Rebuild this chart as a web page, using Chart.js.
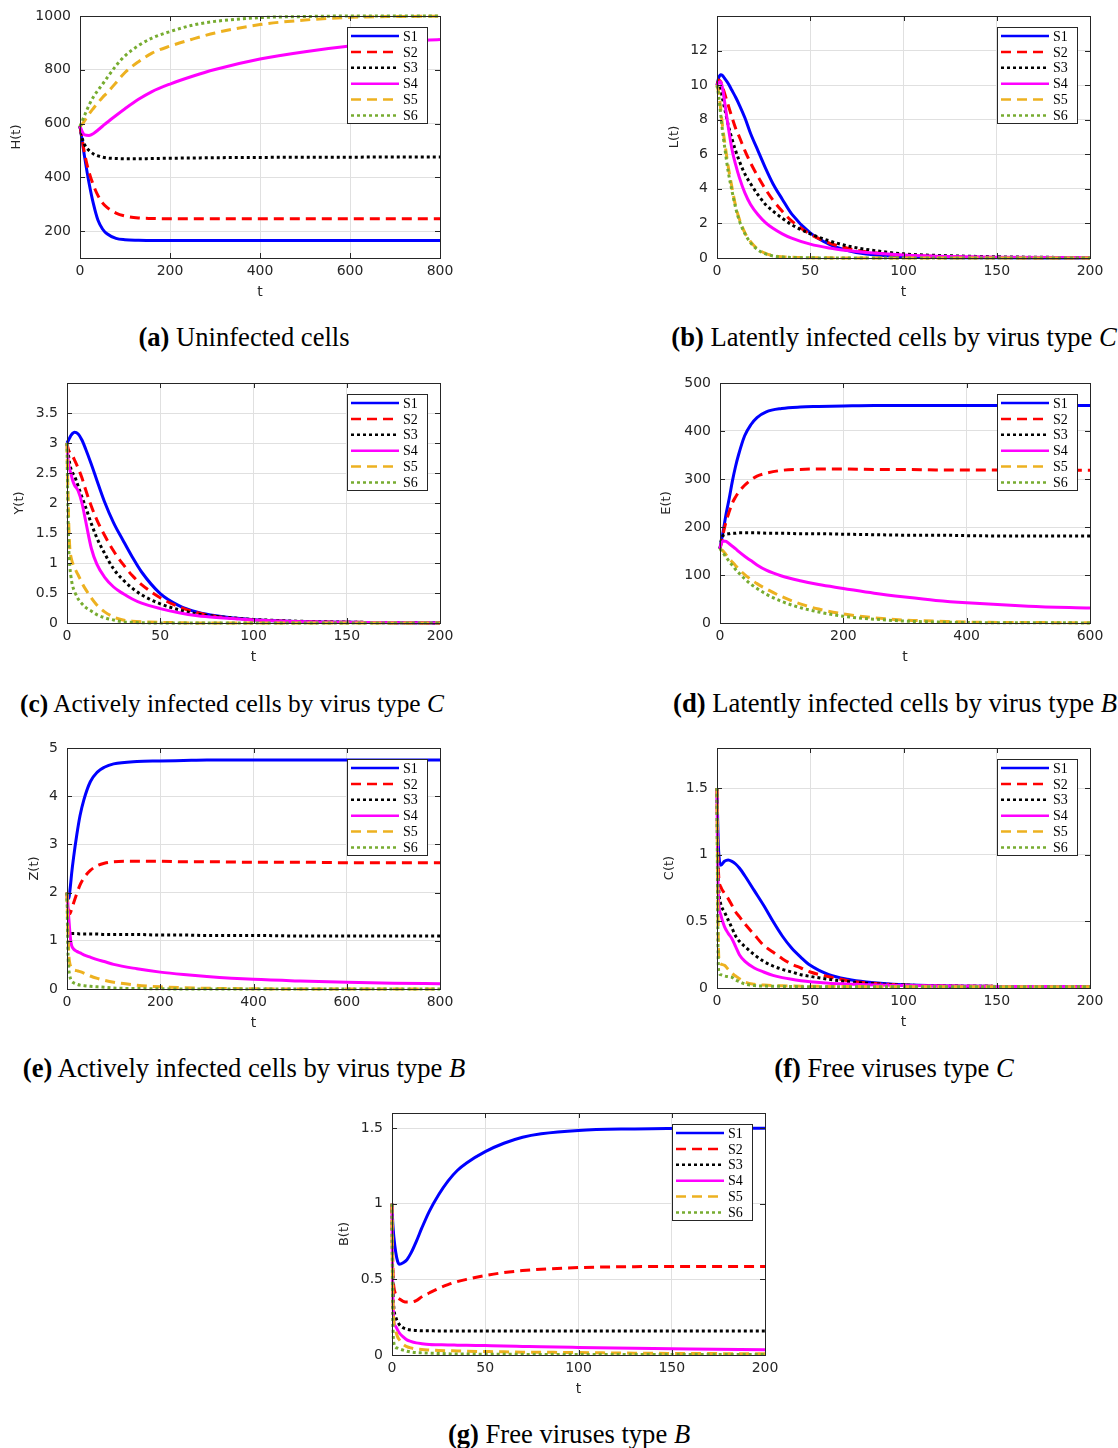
<!DOCTYPE html>
<html>
<head>
<meta charset="utf-8">
<script src="https://cdn.jsdelivr.net/npm/chart.js@4"></script>
<style>
  body { margin: 0; background: #fff; width: 1118px; height: 1448px; position: relative; overflow: hidden; }
  canvas { position: absolute; }
  .cap { position: absolute; font-family: "Liberation Serif", serif; font-size: 26.6px; line-height: 30px; white-space: nowrap; transform: translateX(-50%); color: #000; }
</style>
</head>
<body>
<div class="cap" style="left:244px;top:322px"><b>(a)</b> Uninfected cells</div>
<div class="cap" style="left:894px;top:322px"><b>(b)</b> Latently infected cells by virus type <i>C</i></div>
<div class="cap" style="left:232px;top:688px;font-size:25.4px"><b>(c)</b> Actively infected cells by virus type <i>C</i></div>
<div class="cap" style="left:895px;top:688px"><b>(d)</b> Latently infected cells by virus type <i>B</i></div>
<div class="cap" style="left:244px;top:1053px"><b>(e)</b> Actively infected cells by virus type <i>B</i></div>
<div class="cap" style="left:894px;top:1053px"><b>(f)</b> Free viruses type <i>C</i></div>
<div class="cap" style="left:569px;top:1419px"><b>(g)</b> Free viruses type <i>B</i></div>
<script>
// series names + tick values
const seriesNames = ['S1', 'S2', 'S3', 'S4', 'S5', 'S6']
const ticks800 = [0, 200, 400, 600, 800]
const ticks600 = [0, 200, 400, 600]
const ticks200 = [0, 50, 100, 150, 200]
const yTicksH = [200, 400, 600, 800, 1000]
const yTicksL = [0, 2, 4, 6, 8, 10, 12]
const yTicksY = [0, 0.5, 1, 1.5, 2, 2.5, 3, 3.5]
const yTicksE = [0, 100, 200, 300, 400, 500]
const yTicksZ = [0, 1, 2, 3, 4, 5]
const yTicksC = [0, 0.5, 1, 1.5]
const yTicksB = [0, 0.5, 1, 1.5]

// (a) H(t)
const tA = [0, 5, 10, 20, 30, 40, 50, 60, 80, 100, 130, 160, 200, 250, 300, 400, 500, 600, 700, 800]
const hS1 = [590, 535, 478, 380, 300, 240, 208, 190, 173, 168, 166, 165, 165, 165, 165, 165, 165, 165, 165, 165]
const hS2 = [590, 540, 490, 420, 370, 332, 305, 288, 267, 256, 249, 247, 246, 246, 246, 246, 246, 246, 246, 246]
const hS3 = [590, 545, 522, 500, 487, 480, 475, 472, 470, 469, 469, 470, 471, 472, 473, 474, 475, 475, 476, 476]
const hS4 = [590, 570, 558, 556, 563, 576, 590, 604, 630, 655, 690, 719, 747, 776, 801, 840, 867, 888, 903, 913]
const hS5 = [590, 598, 610, 635, 657, 678, 697, 714, 752, 790, 830, 862, 888, 914, 937, 968, 985, 995, 998, 999]
const hS6 = [590, 610, 630, 668, 700, 724, 746, 770, 815, 852, 890, 918, 942, 966, 980, 994, 998, 1000, 1000, 1000]

// (b) L(t)
const tB = [0, 1, 2, 3, 4, 6, 8, 10, 12, 15, 18, 22, 26, 30, 35, 40, 50, 60, 70, 80, 100, 125, 150, 200]
const lS1 = [10, 10.45, 10.6, 10.55, 10.4, 10.1, 9.7, 9.3, 8.85, 8.1, 7.2, 6.2, 5.2, 4.3, 3.4, 2.55, 1.45, 0.8, 0.43, 0.23, 0.07, 0.02, 0.01, 0]
const lS2 = [10, 10.3, 10.2, 9.9, 9.55, 8.85, 8.15, 7.5, 7.0, 6.2, 5.5, 4.7, 3.98, 3.35, 2.7, 2.15, 1.38, 0.88, 0.56, 0.36, 0.16, 0.07, 0.03, 0.01]
const lS3 = [10, 10.1, 9.7, 9.2, 8.7, 7.7, 6.9, 6.2, 5.6, 4.85, 4.3, 3.65, 3.1, 2.72, 2.3, 1.93, 1.4, 1.0, 0.7, 0.5, 0.24, 0.13, 0.07, 0.02]
const lS4 = [10, 10.15, 10.2, 9.8, 9.1, 7.6, 6.3, 5.4, 4.65, 3.75, 3.1, 2.5, 2.05, 1.72, 1.4, 1.15, 0.8, 0.58, 0.43, 0.32, 0.18, 0.09, 0.05, 0.02]
const lS5 = [10, 9.5, 8.6, 7.6, 6.8, 5.3, 4.1, 3.0, 2.25, 1.45, 0.95, 0.5, 0.27, 0.14, 0.07, 0.04, 0.015, 0.01, 0, 0, 0, 0, 0, 0]
const lS6 = [10, 9.3, 8.3, 7.3, 6.5, 5.0, 3.9, 2.9, 2.15, 1.4, 0.88, 0.46, 0.24, 0.12, 0.06, 0.03, 0.01, 0.005, 0, 0, 0, 0, 0, 0]

// (c) Y(t)
const tC = [0, 0.5, 1, 1.5, 2, 3, 4, 6, 8, 10, 13, 16, 20, 25, 30, 35, 40, 50, 60, 70, 80, 100, 130, 160, 200]
const yS1 = [3.0, 3.03, 3.06, 3.09, 3.12, 3.16, 3.18, 3.15, 3.05, 2.9, 2.65, 2.38, 2.03, 1.67, 1.38, 1.1, 0.85, 0.49, 0.29, 0.18, 0.12, 0.055, 0.02, 0.01, 0]
const yS2 = [3.0, 2.92, 2.87, 2.84, 2.82, 2.78, 2.72, 2.58, 2.42, 2.22, 1.95, 1.72, 1.47, 1.2, 0.98, 0.79, 0.64, 0.42, 0.27, 0.17, 0.11, 0.05, 0.02, 0.01, 0]
const yS3 = [3.0, 2.85, 2.75, 2.65, 2.58, 2.5, 2.45, 2.28, 2.1, 1.93, 1.66, 1.42, 1.17, 0.9, 0.72, 0.58, 0.47, 0.32, 0.22, 0.15, 0.11, 0.06, 0.025, 0.01, 0]
const yS4 = [3.0, 2.75, 2.62, 2.55, 2.5, 2.38, 2.3, 2.2, 2.0, 1.7, 1.25, 0.98, 0.77, 0.6, 0.49, 0.4, 0.33, 0.24, 0.17, 0.12, 0.09, 0.05, 0.02, 0.01, 0]
const yS5 = [3.0, 2.2, 1.6, 1.25, 1.12, 1.0, 0.92, 0.8, 0.67, 0.56, 0.42, 0.3, 0.19, 0.1, 0.05, 0.03, 0.02, 0.01, 0.005, 0, 0, 0, 0, 0, 0]
const yS6 = [3.0, 1.9, 1.2, 0.95, 0.8, 0.62, 0.53, 0.4, 0.32, 0.26, 0.2, 0.14, 0.09, 0.05, 0.02, 0.01, 0.005, 0, 0, 0, 0, 0, 0, 0, 0]

// (d) E(t)
const tD = [0, 2, 5, 10, 15, 20, 25, 30, 40, 50, 60, 75, 100, 130, 160, 200, 250, 300, 350, 400, 500, 600]
const eS1 = [155, 170, 190, 228, 260, 295, 325, 350, 390, 413, 428, 440, 447, 450, 451, 452, 453, 453, 453, 453, 453, 453]
const eS2 = [155, 165, 185, 212, 232, 250, 262, 272, 287, 298, 306, 312, 318, 320, 321, 321, 320, 320, 319, 319, 318, 318]
const eS3 = [155, 172, 182, 185, 186, 187, 187, 188, 188, 188, 188, 187, 187, 186, 186, 185, 184, 183, 183, 182, 181, 181]
const eS4 = [155, 165, 171, 170, 165, 160, 155, 149, 139, 130, 121, 110, 98, 88, 80, 72, 62, 54, 47, 42, 35, 31]
const eS5 = [155, 153, 150, 142, 134, 127, 120, 113, 101, 91, 82, 71, 55, 40, 29, 19, 11, 6, 4, 2, 1, 0.5]
const eS6 = [155, 151, 146, 137, 128, 120, 112, 105, 92, 81, 72, 60, 45, 32, 23, 14, 8, 4, 2, 1, 0.5, 0.2]

// (e) Z(t)
const tE = [0, 2, 4, 6, 8, 10, 14, 21, 28, 36, 50, 65, 80, 100, 150, 200, 250, 300, 400, 500, 600, 700, 800]
const zS1 = [2.0, 1.9, 1.88, 2.02, 2.2, 2.4, 2.72, 3.2, 3.6, 3.92, 4.3, 4.5, 4.6, 4.67, 4.72, 4.73, 4.74, 4.75, 4.75, 4.75, 4.75, 4.75, 4.75]
const zS2 = [2.0, 1.7, 1.58, 1.56, 1.6, 1.66, 1.78, 1.98, 2.16, 2.3, 2.46, 2.56, 2.61, 2.64, 2.65, 2.65, 2.64, 2.64, 2.63, 2.63, 2.62, 2.62, 2.62]
const zS3 = [2.0, 1.5, 1.25, 1.17, 1.15, 1.15, 1.15, 1.15, 1.14, 1.14, 1.14, 1.14, 1.13, 1.13, 1.13, 1.12, 1.12, 1.11, 1.11, 1.1, 1.1, 1.1, 1.1]
const zS4 = [2.0, 1.73, 1.45, 1.2, 1.0, 0.9, 0.83, 0.78, 0.75, 0.71, 0.66, 0.61, 0.57, 0.51, 0.42, 0.35, 0.3, 0.26, 0.2, 0.165, 0.14, 0.12, 0.11]
const zS5 = [2.0, 1.2, 0.7, 0.53, 0.47, 0.43, 0.4, 0.38, 0.36, 0.33, 0.27, 0.22, 0.18, 0.14, 0.08, 0.045, 0.028, 0.015, 0.005, 0, 0, 0, 0]
const zS6 = [2.0, 0.8, 0.4, 0.27, 0.2, 0.16, 0.13, 0.1, 0.08, 0.07, 0.055, 0.045, 0.035, 0.02, 0.01, 0.005, 0, 0, 0, 0, 0, 0, 0]

// (f) C(t)
const tF = [0, 0.3, 0.6, 1, 2, 4, 6, 8, 10, 12, 15, 20, 25, 30, 35, 40, 45, 50, 60, 70, 80, 100, 150, 200]
const cS1 = [1.5, 1.3, 1.12, 1.0, 0.92, 0.95, 0.96, 0.95, 0.93, 0.9, 0.84, 0.73, 0.62, 0.5, 0.39, 0.3, 0.23, 0.17, 0.1, 0.065, 0.045, 0.025, 0.012, 0.01]
const cS2 = [1.5, 1.15, 0.95, 0.82, 0.76, 0.71, 0.67, 0.62, 0.57, 0.535, 0.48, 0.4, 0.32, 0.27, 0.22, 0.18, 0.15, 0.12, 0.085, 0.055, 0.038, 0.022, 0.012, 0.01]
const cS3 = [1.5, 1.05, 0.85, 0.72, 0.63, 0.57, 0.51, 0.45, 0.39, 0.35, 0.31, 0.25, 0.2, 0.165, 0.14, 0.12, 0.1, 0.087, 0.065, 0.048, 0.036, 0.022, 0.012, 0.01]
const cS4 = [1.5, 1.0, 0.75, 0.62, 0.55, 0.46, 0.41, 0.37, 0.31, 0.25, 0.2, 0.15, 0.12, 0.095, 0.078, 0.065, 0.055, 0.047, 0.036, 0.03, 0.025, 0.018, 0.012, 0.01]
const cS5 = [1.5, 0.9, 0.45, 0.22, 0.18, 0.17, 0.14, 0.11, 0.09, 0.07, 0.045, 0.028, 0.022, 0.018, 0.016, 0.015, 0.014, 0.013, 0.012, 0.011, 0.01, 0.01, 0.01, 0.01]
const cS6 = [1.5, 0.7, 0.25, 0.12, 0.1, 0.09, 0.085, 0.08, 0.06, 0.048, 0.03, 0.018, 0.015, 0.013, 0.012, 0.011, 0.01, 0.01, 0.01, 0.01, 0.01, 0.01, 0.01, 0.01]

// (g) B(t)
const tG = [0, 0.3, 0.6, 1, 2, 3, 4, 6, 8, 10, 13, 16, 20, 25, 30, 35, 40, 50, 60, 70, 80, 100, 130, 160, 200]
const bS1 = [1.0, 0.9, 0.84, 0.78, 0.68, 0.62, 0.6, 0.61, 0.63, 0.67, 0.75, 0.84, 0.95, 1.06, 1.15, 1.22, 1.27, 1.345, 1.4, 1.44, 1.463, 1.485, 1.495, 1.5, 1.5]
const bS2 = [1.0, 0.7, 0.52, 0.45, 0.4, 0.38, 0.37, 0.355, 0.35, 0.35, 0.36, 0.385, 0.41, 0.44, 0.465, 0.485, 0.5, 0.525, 0.545, 0.558, 0.567, 0.578, 0.584, 0.585, 0.585]
const bS3 = [1.0, 0.6, 0.4, 0.31, 0.25, 0.22, 0.2, 0.18, 0.17, 0.165, 0.162, 0.16, 0.16, 0.159, 0.159, 0.159, 0.159, 0.158, 0.158, 0.158, 0.158, 0.158, 0.158, 0.158, 0.158]
const bS4 = [1.0, 0.5, 0.32, 0.22, 0.19, 0.165, 0.145, 0.12, 0.1, 0.09, 0.08, 0.075, 0.07, 0.068, 0.066, 0.065, 0.064, 0.062, 0.06, 0.057, 0.054, 0.05, 0.045, 0.04, 0.035]
const bS5 = [1.0, 0.55, 0.33, 0.22, 0.16, 0.12, 0.1, 0.07, 0.055, 0.047, 0.04, 0.036, 0.033, 0.03, 0.028, 0.027, 0.025, 0.023, 0.021, 0.019, 0.018, 0.016, 0.012, 0.01, 0.008]
const bS6 = [1.0, 0.35, 0.15, 0.08, 0.05, 0.045, 0.04, 0.032, 0.025, 0.02, 0.016, 0.014, 0.012, 0.01, 0.008, 0.006, 0.006, 0.005, 0.005, 0.004, 0.004, 0.004, 0.003, 0.003, 0.003]

// styles (MATLAB-ish)
const colors = ['#0000ff', '#ff0000', '#000000', '#ff00ff', '#edb120', '#77ac30']
const dashes = [[], [10, 6], [3, 3], [], [10, 6], [3, 3]]
const AXIS = '#262626'
const GRID = '#e0e0e0'
const PAD_T = 18
const PAD_R = 22
const XH = 43

Chart.defaults.font.family = '"DejaVu Sans", sans-serif'

// box + inward ticks like matlab
const frame = {
  id: 'frame',
  afterDatasetsDraw(chart) {
    const { ctx, chartArea: a, scales: { x, y } } = chart
    ctx.save()
    ctx.strokeStyle = AXIS
    ctx.lineWidth = 1
    ctx.setLineDash([])
    ctx.beginPath()
    x.ticks.forEach(t => {
      const px = Math.round(x.getPixelForValue(t.value)) + 0.5
      ctx.moveTo(px, a.bottom); ctx.lineTo(px, a.bottom - 5)
      ctx.moveTo(px, a.top); ctx.lineTo(px, a.top + 5)
    })
    y.ticks.forEach(t => {
      const py = Math.round(y.getPixelForValue(t.value)) + 0.5
      ctx.moveTo(a.left, py); ctx.lineTo(a.left + 5, py)
      ctx.moveTo(a.right, py); ctx.lineTo(a.right - 5, py)
    })
    ctx.stroke()
    ctx.strokeRect(Math.round(a.left) + 0.5, Math.round(a.top) + 0.5, Math.round(a.width), Math.round(a.height))
    ctx.restore()
  }
}

// legend box inside the plot, top right
const boxLegend = {
  id: 'boxLegend',
  afterDraw(chart) {
    const { ctx, chartArea: a } = chart
    const w = 80
    const h = 96
    const x0 = Math.round(a.right - 13 - w)
    const y0 = Math.round(a.top + 11)
    ctx.save()
    ctx.fillStyle = '#fff'
    ctx.fillRect(x0, y0, w, h)
    ctx.strokeStyle = AXIS
    ctx.lineWidth = 1
    ctx.strokeRect(x0 + 0.5, y0 + 0.5, w, h)
    chart.data.datasets.forEach((ds, i) => {
      const yy = y0 + 9 + i * 15.9
      ctx.strokeStyle = ds.borderColor
      ctx.lineWidth = 2.5
      ctx.setLineDash(ds.borderDash)
      ctx.beginPath()
      ctx.moveTo(x0 + 4, yy)
      ctx.lineTo(x0 + 52, yy)
      ctx.stroke()
      ctx.setLineDash([])
      ctx.fillStyle = '#000'
      ctx.font = '14px "Liberation Serif"'
      ctx.textBaseline = 'middle'
      ctx.fillText(ds.label, x0 + 56, yy + 1)
    })
    ctx.restore()
  }
}

const panels = [
  { title: 'H(t)', t: tA, series: [hS1, hS2, hS3, hS4, hS5, hS6], xMax: 800, yMin: 100, yMax: 1000, xTicks: ticks800, yTicks: yTicksH, box: [80, 16, 440, 258], canvasLeft: 9 },
  { title: 'L(t)', t: tB, series: [lS1, lS2, lS3, lS4, lS5, lS6], xMax: 200, yMin: 0, yMax: 14, xTicks: ticks200, yTicks: yTicksL, box: [717, 16, 1090, 258], canvasLeft: 667 },
  { title: 'Y(t)', t: tC, series: [yS1, yS2, yS3, yS4, yS5, yS6], xMax: 200, yMin: 0, yMax: 4, xTicks: ticks200, yTicks: yTicksY, box: [67, 383, 440, 623], canvasLeft: 12 },
  { title: 'E(t)', t: tD, series: [eS1, eS2, eS3, eS4, eS5, eS6], xMax: 600, yMin: 0, yMax: 500, xTicks: ticks600, yTicks: yTicksE, box: [720, 383, 1090, 623], canvasLeft: 659 },
  { title: 'Z(t)', t: tE, series: [zS1, zS2, zS3, zS4, zS5, zS6], xMax: 800, yMin: 0, yMax: 5, xTicks: ticks800, yTicks: yTicksZ, box: [67, 748, 440, 989], canvasLeft: 27 },
  { title: 'C(t)', t: tF, series: [cS1, cS2, cS3, cS4, cS5, cS6], xMax: 200, yMin: 0, yMax: 1.8, xTicks: ticks200, yTicks: yTicksC, box: [717, 748, 1090, 988], canvasLeft: 662 },
  { title: 'B(t)', t: tG, series: [bS1, bS2, bS3, bS4, bS5, bS6], xMax: 200, yMin: 0, yMax: 1.6, xTicks: ticks200, yTicks: yTicksB, box: [392, 1113, 765, 1355], canvasLeft: 337 }
]

panels.forEach(p => {
  const [left, top, right, bottom] = p.box
  const yw = left - p.canvasLeft
  const canvas = document.createElement('canvas')
  canvas.width = right - left + yw + PAD_R
  canvas.height = bottom - top + PAD_T + XH
  canvas.style.left = p.canvasLeft + 'px'
  canvas.style.top = (top - PAD_T) + 'px'
  document.body.appendChild(canvas)

  const datasets = p.series.map((ys, i) => ({
    label: seriesNames[i],
    data: p.t.map((t, k) => ({ x: t, y: ys[k] })),
    borderColor: colors[i],
    borderDash: dashes[i],
    borderWidth: 3,
    pointRadius: 0,
    cubicInterpolationMode: 'monotone',
    order: 6 - i,
    clip: 3
  }))

  new Chart(canvas, {
    type: 'line',
    data: { datasets },
    options: {
      responsive: false,
      animation: false,
      events: [],
      layout: { padding: { top: PAD_T, right: PAD_R, left: 0, bottom: 0 } },
      plugins: { legend: { display: false }, tooltip: { enabled: false } },
      scales: {
        x: {
          type: 'linear',
          min: 0,
          max: p.xMax,
          afterBuildTicks: s => { s.ticks = p.xTicks.map(v => ({ value: v })) },
          afterFit: s => { s.height = XH },
          grid: { color: GRID, drawTicks: false },
          border: { display: false },
          ticks: { padding: 5, color: AXIS, font: { size: 14 }, maxRotation: 0, autoSkip: false, callback: v => String(v) },
          title: { display: true, text: 't', color: AXIS, font: { size: 14 }, padding: 0 }
        },
        y: {
          type: 'linear',
          min: p.yMin,
          max: p.yMax,
          afterBuildTicks: s => { s.ticks = p.yTicks.map(v => ({ value: v })) },
          afterFit: s => { s.width = yw },
          grid: { color: GRID, drawTicks: false },
          border: { display: false },
          ticks: { padding: 9, color: AXIS, font: { size: 14 }, autoSkip: false, callback: v => String(v) },
          title: { display: true, text: p.title, color: AXIS, font: { size: 13 }, padding: 0 }
        }
      }
    },
    plugins: [frame, boxLegend]
  })
})
</script>
</body>
</html>
